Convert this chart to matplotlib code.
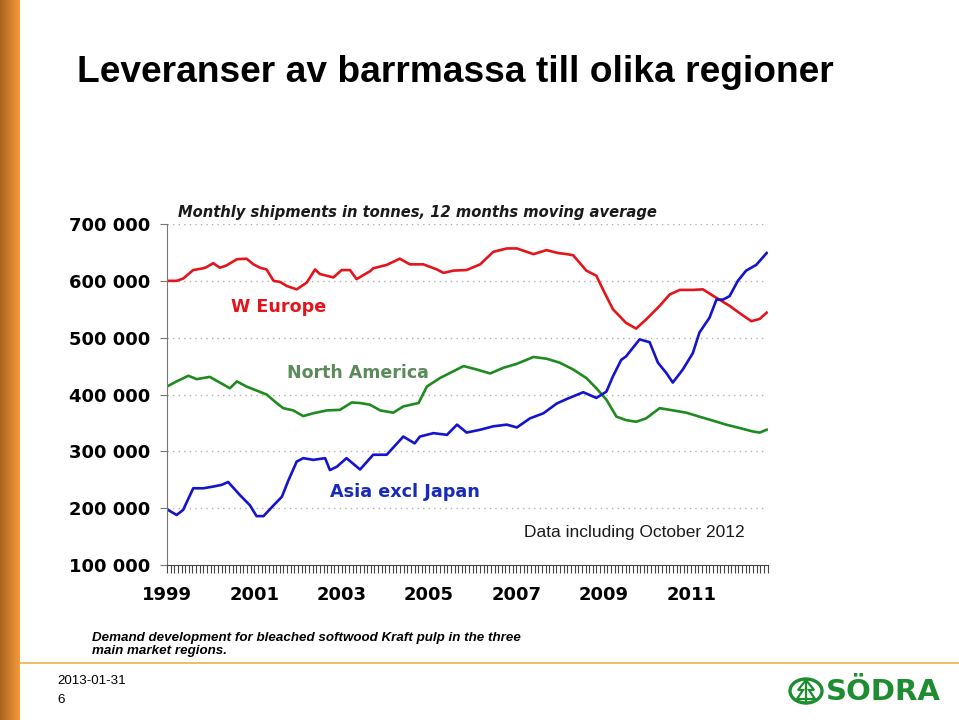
import numpy as np
import matplotlib
matplotlib.use("Agg")
import matplotlib.pyplot as plt
from matplotlib.patches import Circle, Polygon
from matplotlib.lines import Line2D
from matplotlib.colors import LinearSegmentedColormap

# ---------------- data (thousand tonnes, decimal years) ----------------
eu_t = [1999.0, 1999.22, 1999.37, 1999.6, 1999.83, 1999.9, 2000.06, 2000.21, 2000.36,
        2000.6, 2000.82, 2000.98, 2001.13, 2001.28, 2001.44, 2001.59, 2001.74, 2001.97,
        2002.2, 2002.39, 2002.5, 2002.81, 2003.0, 2003.19, 2003.34, 2003.65, 2003.72,
        2004.03, 2004.33, 2004.56, 2004.87, 2005.18, 2005.33, 2005.56, 2005.86, 2006.17,
        2006.47, 2006.78, 2007.01, 2007.39, 2007.69, 2007.95, 2008.15, 2008.3, 2008.6,
        2008.83, 2008.98, 2009.21, 2009.51, 2009.74, 2009.97, 2010.28, 2010.51, 2010.74,
        2011.04, 2011.27, 2011.58, 2011.88, 2012.15, 2012.38, 2012.57, 2012.73]
eu_v = [600, 600, 604, 619, 622, 624, 631, 623, 627, 638, 639, 629, 623, 620, 600, 598,
        591, 585, 597, 620, 612, 606, 619, 619, 603, 617, 622, 628, 639, 629, 629, 620,
        614, 618, 619, 629, 651, 657, 657, 647, 654, 649, 647, 645, 618, 609, 585, 550,
        526, 516, 532, 556, 576, 584, 584, 585, 570, 556, 541, 529, 533, 544]

na_t = [1999.0, 1999.22, 1999.49, 1999.68, 1999.98, 2000.21, 2000.44, 2000.6, 2000.82,
        2001.05, 2001.28, 2001.51, 2001.66, 2001.89, 2002.12, 2002.35, 2002.66, 2002.96,
        2003.23, 2003.42, 2003.65, 2003.88, 2004.18, 2004.41, 2004.76, 2004.95, 2005.25,
        2005.56, 2005.79, 2006.09, 2006.4, 2006.7, 2007.01, 2007.39, 2007.69, 2007.99,
        2008.3, 2008.6, 2008.83, 2009.06, 2009.29, 2009.51, 2009.74, 2009.97, 2010.28,
        2010.51, 2010.89, 2011.19, 2011.5, 2011.8, 2012.11, 2012.41, 2012.57, 2012.73]
na_v = [414, 423, 433, 427, 431, 421, 411, 423, 414, 407, 400, 385, 376, 372, 362, 367,
        372, 373, 386, 385, 382, 372, 368, 379, 385, 414, 429, 441, 450, 444, 437, 447,
        454, 466, 463, 456, 444, 429, 411, 391, 361, 355, 352, 358, 376, 373, 368, 361,
        354, 347, 341, 335, 333, 338]

as_t = [1999.0, 1999.22, 1999.37, 1999.6, 1999.83, 2000.06, 2000.25, 2000.4, 2000.67,
        2000.9, 2001.05, 2001.21, 2001.44, 2001.63, 2001.78, 2001.97, 2002.12, 2002.35,
        2002.62, 2002.73, 2002.89, 2003.11, 2003.42, 2003.72, 2004.03, 2004.41, 2004.67,
        2004.79, 2005.1, 2005.41, 2005.64, 2005.86, 2006.17, 2006.47, 2006.78, 2007.01,
        2007.31, 2007.62, 2007.92, 2008.15, 2008.53, 2008.83, 2009.06, 2009.21, 2009.4,
        2009.51, 2009.82, 2010.05, 2010.24, 2010.43, 2010.58, 2010.81, 2011.04, 2011.19,
        2011.42, 2011.58, 2011.73, 2011.88, 2012.07, 2012.26, 2012.49, 2012.73]
as_v = [198, 188, 197, 235, 235, 238, 241, 246, 223, 205, 186, 186, 205, 220, 249, 282,
        288, 285, 288, 267, 273, 288, 268, 294, 294, 326, 314, 326, 332, 329, 347, 333,
        338, 344, 347, 342, 358, 367, 384, 392, 404, 394, 405, 432, 461, 467, 497, 492,
        456, 438, 421, 444, 473, 509, 535, 567, 567, 573, 600, 618, 628, 649]

y_ticks = [100, 200, 300, 400, 500, 600, 700]
y_labels = ["100 000", "200 000", "300 000", "400 000", "500 000", "600 000", "700 000"]
x_ticks = [1999, 2001, 2003, 2005, 2007, 2009, 2011]
x_labels = ["1999", "2001", "2003", "2005", "2007", "2009", "2011"]

RED = "#e3141c"
GREEN = "#1f8a1f"
BLUE = "#1414cc"

W, H = 959, 720
fig = plt.figure(figsize=(W / 100, H / 100), dpi=100)
fig.patch.set_facecolor("white")


def fx(x):
    return x / W


def fy(y):
    return 1 - y / H


# left orange gradient bar
bar_ax = fig.add_axes([0, 0, fx(20), 1])
grad = np.linspace(0, 1, 64).reshape(1, -1)
cmap = LinearSegmentedColormap.from_list("org", ["#a8621f", "#d07f2c", "#f59a3a"])
bar_ax.imshow(grad, aspect="auto", cmap=cmap, extent=[0, 1, 0, 1])
bar_ax.set_axis_off()

# bottom orange line
fig.add_artist(Line2D([fx(20), 1], [fy(662.5), fy(662.5)], color="#f0b04a", lw=1.2))

# title
fig.text(fx(77), fy(72), "Leveranser av barrmassa till olika regioner",
         family=["Liberation Sans Narrow", "Liberation Sans", "DejaVu Sans"],
         fontweight="bold", fontsize=26.7, va="center", ha="left", color="black")

# main chart
ax = fig.add_axes([fx(167), fy(565), fx(768 - 167), (565 - 224) / H])
ax.plot(eu_t, eu_v, color=RED, lw=1.9, solid_joinstyle="round")
ax.plot(na_t, na_v, color=GREEN, lw=1.9, solid_joinstyle="round")
ax.plot(as_t, as_v, color=BLUE, lw=1.9, solid_joinstyle="round")

ax.set_xlim(1999, 2012.76)
ax.set_ylim(100, 700)
for v in y_ticks[1:]:
    ax.plot([1999, 2012.68], [v, v], color="#b0b0b0", lw=1.0,
            linestyle=(0, (1, 3)), zorder=0)
ax.set_yticks(y_ticks)
ax.set_yticklabels(y_labels, fontweight="bold", fontsize=13, family="DejaVu Sans")
ax.set_xticks(x_ticks)
ax.set_xticklabels(x_labels, fontweight="bold", fontsize=13, family="DejaVu Sans")
ax.set_xticks(np.arange(1999, 2012.76, 1 / 12), minor=True)
ax.tick_params(axis="x", which="major", length=6, color="#444444", pad=9, width=0.8)
ax.tick_params(axis="x", which="minor", length=6, color="#444444", width=0.8)
ax.tick_params(axis="y", length=5, color="#777777", pad=7, width=0.8)
for s in ["top", "right"]:
    ax.spines[s].set_visible(False)
ax.spines["left"].set_color("#777777")
ax.spines["bottom"].set_color("#444444")
ax.patch.set_alpha(0)

# chart texts
fig.text(fx(178), fy(212), "Monthly shipments in tonnes, 12 months moving average",
         fontweight="bold", style="italic", fontsize=10.6, color="#1a1a1a",
         va="center", ha="left", family="DejaVu Sans")
fig.text(fx(231), fy(307), "W Europe", color=RED, fontweight="bold", fontsize=12.6,
         va="center", ha="left", family="DejaVu Sans")
fig.text(fx(287), fy(373), "North America", color="#5b8a5b", fontweight="bold",
         fontsize=12.5, va="center", ha="left", family="DejaVu Sans")
fig.text(fx(330), fy(492), "Asia excl Japan", color="#1a2ab8", fontweight="bold",
         fontsize=12.7, va="center", ha="left", family="DejaVu Sans")
fig.text(fx(524), fy(533), "Data including October 2012", color="#1a1a1a",
         fontsize=12.5, va="center", ha="left", family="Liberation Sans")

# caption
fig.text(fx(92), fy(644.5), "Demand development for bleached softwood Kraft pulp in the three\nmain market regions.",
         fontweight="bold", style="italic", fontsize=9.6, va="center", ha="left",
         family="Liberation Sans", linespacing=1.2)
fig.text(fx(57), fy(681), "2013-01-31", fontsize=9.6, va="center", ha="left",
         family="Liberation Sans")
fig.text(fx(57), fy(700), "6", fontsize=9.6, va="center", ha="left",
         family="Liberation Sans")

# Södra logo
LG = "#1e8c30"
cx, cy, r = 806, 691, 16
fig.add_artist(Circle((fx(cx), fy(cy)), r / W, transform=fig.transFigure,
                      fill=False, ec=LG, lw=2.4))
tree = [(cx, cy - 11), (cx - 8, cy - 1), (cx - 3, cy - 1), (cx - 9, cy + 8),
        (cx + 9, cy + 8), (cx + 3, cy - 1), (cx + 8, cy - 1)]
fig.add_artist(Polygon([(fx(a), fy(b)) for a, b in tree], closed=True,
                       transform=fig.transFigure, fill=False, ec=LG, lw=1.6))
fig.add_artist(Line2D([fx(cx), fx(cx)], [fy(cy - 11), fy(cy + 12)], color=LG, lw=1.6))
fig.text(fx(826), fy(692), "SÖDRA", color=LG, fontweight="heavy", fontsize=21,
         va="center", ha="left", family="DejaVu Sans")

fig.savefig("out.png", dpi=100)
